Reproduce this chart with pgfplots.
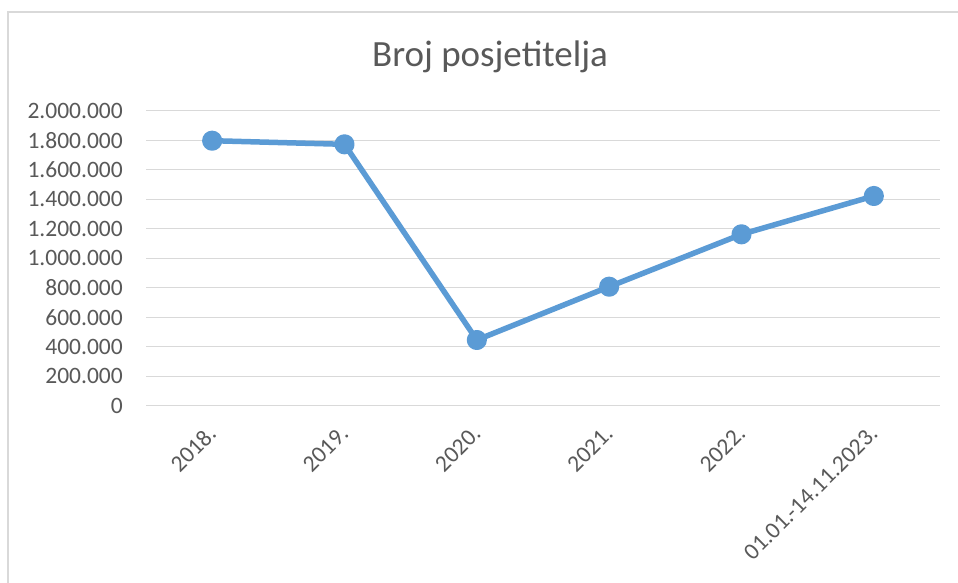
\documentclass[border=0pt]{standalone}
\usepackage{pgfplots}
\pgfplotsset{compat=1.18}
\usepackage{fontspec}
\setmainfont{Carlito}
\definecolor{txt}{HTML}{595959}
\definecolor{gridc}{HTML}{D9D9D9}
\definecolor{linec}{HTML}{5B9BD5}
\begin{document}
\begin{tikzpicture}
\path[use as bounding box] (0,0) rectangle (958pt,583pt);
\fill[white] (0,0) rectangle (958pt,583pt);
\begin{scope}
\clip (0,0) rectangle (958pt,583pt);
\draw[gridc, line width=1.2pt] (8pt,-20pt) rectangle (1000pt,571pt);
\end{scope}
\node[anchor=base, text=txt, font=\fontsize{37}{44}\selectfont, inner sep=0pt] at (490pt,516pt) {Broj posjetitelja};
\begin{axis}[
  at={(146pt,177.3pt)}, anchor=south west,
  scale only axis, width=794pt, height=295pt,
  xmin=-0.5, xmax=5.5, ymin=0, ymax=2000000,
  axis line style={draw=none},
  xtick={0,1,2,3,4,5},
  xticklabels={2018.,2019.,2020.,2021.,2022.,01.01.-14.11.2023.},
  ytick={0,200000,400000,600000,800000,1000000,1200000,1400000,1600000,1800000,2000000},
  yticklabels={0,200.000,400.000,600.000,800.000,1.000.000,1.200.000,1.400.000,1.600.000,1.800.000,2.000.000},
  scaled y ticks=false,
  major tick length=0pt,
  xmajorgrids=false, ymajorgrids=true,
  grid style={draw=gridc, line width=1.3pt},
  yticklabel style={anchor=east, inner sep=0pt, xshift=-23pt, text=txt, font=\fontsize{23.5}{28}\selectfont},
  xticklabel style={rotate=45, anchor=east, inner sep=0pt, text=txt, font=\fontsize{23.5}{28}\selectfont},
  xticklabel shift=24pt,
  clip=false,
]
\addplot[linec, line width=5.5pt, line join=round, mark=*, mark size=7.3pt, mark options={fill=linec, draw=none}] coordinates {
  (0,1796600) (1,1772000) (2,445400) (3,806800) (4,1162000) (5,1421700)
};
\end{axis}
\end{tikzpicture}
\end{document}
